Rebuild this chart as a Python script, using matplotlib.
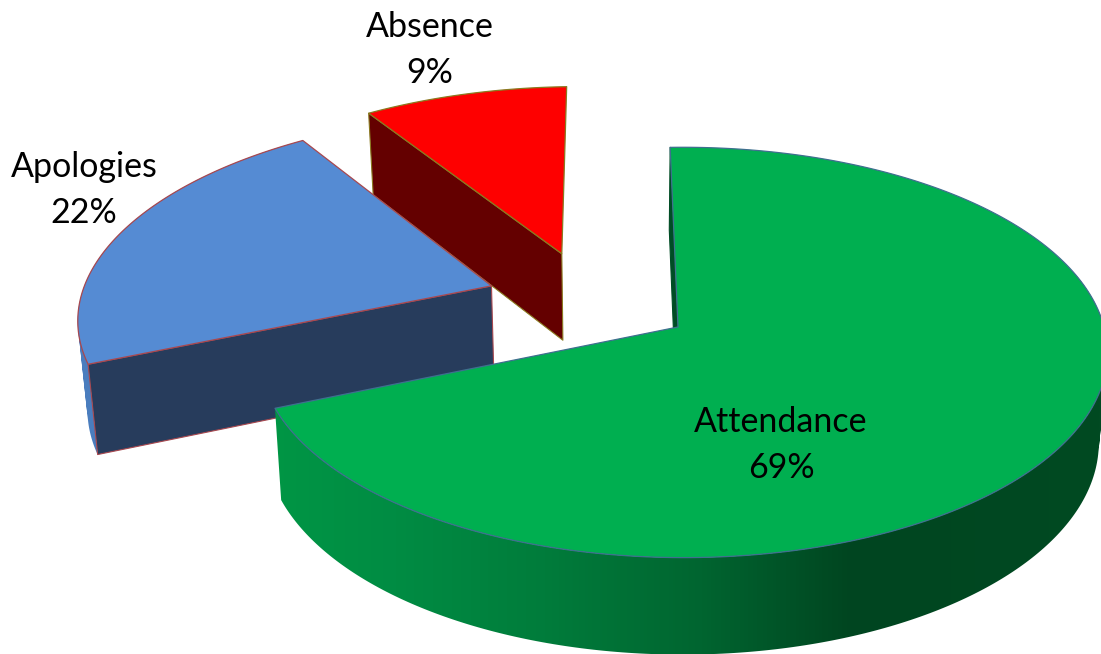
"""Exploded perspective pie: attendance, apologies, absence."""
from __future__ import annotations

import matplotlib

matplotlib.use("Agg")
import matplotlib.pyplot as plt
import numpy as np
from matplotlib.colors import LinearSegmentedColormap
from matplotlib.patches import PathPatch, Polygon
from matplotlib.path import Path

names = ["Attendance", "Apologies", "Absence"]
shares = [69, 22, 9]

top_colors = ["#00AF50", "#558BD3", "#FE0000"]
cut_colors = ["#004D25", "#273C5C", "#640000"]
rim_colors = ["#00AF50", "#4A7DBE", "#640000"]
edge_colors = ["#3F6F8F", "#A8484F", "#8A7A20"]

# ground plane offset and radius of each slice, in pie radii
explode = [(0.0, 0.0), (-0.457, 0.21), (-0.29, 0.381)]
radii = [1.0, 1.015, 1.02]
label_pos = [(781, 445), (84, 190), (430, 50)]

START_ANGLE = 91.2

# perspective settings, pixels
APEX_X, APEX_Y = 678.0, 327.0
TILT_V, TILT_U = 0.124, -0.012
TOP_A, TOP_B = 421.0, 202.0
BOT_A, BOT_B = 413.5, 209.0
BOT_DX, BOT_DY = -1.0, 89.0

rim_cmap = LinearSegmentedColormap.from_list(
    "rim",
    [(0.0, "#009645"), (0.15, "#008C43"), (0.33, "#007C3B"), (0.52, "#006530"),
     (0.70, "#004520"), (1.0, "#014A22")],
)
RIM_X0, RIM_X1 = 270, 1101


def project(u, v, bottom=False):
    u = np.asarray(u, dtype=float)
    v = np.asarray(v, dtype=float)
    denom = 1.0 + TILT_V * v + TILT_U * u
    if bottom:
        return APEX_X + BOT_DX + BOT_A * u / denom, APEX_Y + BOT_DY - BOT_B * v / denom
    return APEX_X + TOP_A * u / denom, APEX_Y - TOP_B * v / denom


def rim_uv(theta, offset, radius):
    rad = np.radians(theta)
    return offset[0] + radius * np.cos(rad), offset[1] + radius * np.sin(rad)


def add_poly(ax, xs, ys, face, edge=None, lw=1.0, z=1):
    patch = Polygon(np.column_stack([xs, ys]), closed=True, facecolor=face,
                    edgecolor=edge if edge else face, linewidth=lw, zorder=z, joinstyle="round")
    ax.add_patch(patch)
    return patch


def draw_cut(ax, theta, offset, radius, color, edge, z):
    # flat wall from the apex out to the rim at one angle
    ou, ov = offset
    ru, rv = rim_uv(theta, offset, radius)
    x0, y0 = project([ou, ru], [ov, rv])
    x1, y1 = project([ru, ou], [rv, ov], bottom=True)
    add_poly(ax, np.r_[x0, x1], np.r_[y0, y1], color, edge, 0.8, z)


def rim_path(a0, a1, offset, radius):
    # union of small quads so the silhouette past the tangent point gets filled too
    thetas = np.linspace(a0, a1, 240)
    u, v = rim_uv(thetas, offset, radius)
    xt, yt = project(u, v)
    xb, yb = project(u, v, bottom=True)
    quads = []
    for i in range(len(thetas) - 1):
        quad = np.array([[xt[i], yt[i]], [xt[i + 1], yt[i + 1]], [xb[i + 1], yb[i + 1]], [xb[i], yb[i]]])
        x, y = quad[:, 0], quad[:, 1]
        if np.dot(x, np.roll(y, -1)) - np.dot(y, np.roll(x, -1)) < 0:
            quad = quad[::-1]
        quads.append(Path(np.vstack([quad, quad[0]]), closed=True))
    return Path.make_compound_path(*quads)


def draw_rim(ax, a0, a1, offset, radius, color, z, shaded=False):
    path = rim_path(a0, a1, offset, radius)
    if not shaded:
        ax.add_patch(PathPatch(path, facecolor=color, edgecolor="none", zorder=z))
        return
    # the shading only depends on x, so one image clipped to the wall does it
    clip = PathPatch(path, facecolor="none", edgecolor="none", zorder=z)
    ax.add_patch(clip)
    ramp = np.linspace(0, 1, 512)[None, :]
    img = ax.imshow(ramp, cmap=rim_cmap, aspect="auto", zorder=z, interpolation="bilinear",
                    extent=(RIM_X0, RIM_X1, 654, 0))
    img.set_clip_path(clip)


def draw_top(ax, a0, a1, offset, radius, color, edge, z):
    thetas = np.linspace(a0, a1, 240)
    u, v = rim_uv(thetas, offset, radius)
    xs, ys = project(np.r_[offset[0], u], np.r_[offset[1], v])
    add_poly(ax, xs, ys, color, edge, 0.9, z)


fig = plt.figure(figsize=(11.01, 6.54), dpi=100, facecolor="white")
ax = fig.add_axes([0, 0, 1, 1])

# slices run clockwise from the start angle
sweeps = np.array(shares) / sum(shares) * 360.0
starts = START_ANGLE - np.r_[0.0, np.cumsum(sweeps)[:-1]]
ends = starts - sweeps

# far slices first, attendance sits in front of the other two
for idx in [2, 1, 0]:
    a_start, a_end = starts[idx], ends[idx]
    off, rad = explode[idx], radii[idx]
    base = 10 * (3 - idx)
    if idx == 0:
        draw_cut(ax, a_start, off, rad, cut_colors[idx], None, base)
        draw_rim(ax, a_end, 15.0, off, rad, rim_colors[idx], base + 1, shaded=True)
    elif idx == 1:
        draw_rim(ax, a_start, a_end, off, rad, rim_colors[idx], base)
        draw_cut(ax, a_start, off, rad, cut_colors[idx], edge_colors[idx], base + 1)
    else:
        draw_cut(ax, a_start, off, rad, cut_colors[idx], edge_colors[idx], base)
    draw_top(ax, a_start, a_end, off, rad, top_colors[idx], edge_colors[idx], base + 2)

for name, share, (lx, ly) in zip(names, shares, label_pos):
    ax.text(lx, ly, f"{name}\n{share}%", ha="center", va="center", fontsize=24.5,
            family=["Lato", "DejaVu Sans"], color="black", linespacing=1.54, zorder=50)

ax.set_xlim(0, 1101)
ax.set_ylim(654, 0)
ax.axis("off")

fig.savefig("out.png", dpi=100)
